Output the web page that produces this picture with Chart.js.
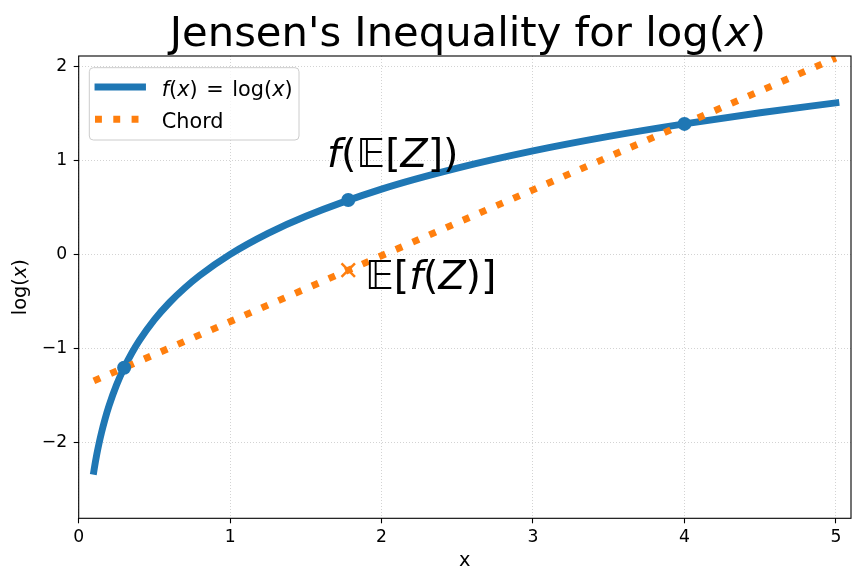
<!DOCTYPE html>
<html>
<head>
<meta charset="utf-8">
<script src="https://cdn.jsdelivr.net/npm/chart.js@4.4.1/dist/chart.umd.min.js"></script>
<style>
  html, body { margin: 0; padding: 0; background: #fff; }
</style>
</head>
<body>
<canvas id="chart" width="863" height="582"></canvas>
<script>
// curve f(x) = log(x)
const curveX = [0.1, 0.11, 0.12, 0.135, 0.15, 0.175, 0.2, 0.25, 0.3, 0.35, 0.4, 0.5, 0.6, 0.7, 0.8, 1, 1.25, 1.5, 2, 2.5, 3, 3.5, 4, 4.5, 5];
const curveY = [-2.303, -2.207, -2.120, -2.002, -1.897, -1.743, -1.609, -1.386, -1.204, -1.050, -0.916, -0.693, -0.511, -0.357, -0.223, 0, 0.223, 0.405, 0.693, 0.916, 1.099, 1.253, 1.386, 1.504, 1.609];

// chord through the two sample points
const chordX = [0.1, 5];
const chordY = [-1.344, 2.086];

// marked points: Z values and f(E[Z])
const pointX = [0.3, 1.78, 4];
const pointY = [-1.204, 0.577, 1.386];

// E[f(Z)] on the chord
const jensenX = [1.78];
const jensenY = [-0.168];

const xTicks = [0, 1, 2, 3, 4, 5];
const yTicks = [-2, -1, 0, 1, 2];

const BLUE = '#1f77b4';
const ORANGE = '#ff7f0e';
const FONT = '"DejaVu Sans"';

const toPts = (xs, ys) => xs.map((x, i) => ({ x: x, y: ys[i] }));
const fmt = (v) => String(v).replace('-', '\u2212');

function fontStr(size, italic) {
  return (italic ? 'italic ' : '') + size + 'px ' + FONT;
}

function richWidth(ctx, parts, size) {
  let w = 0;
  parts.forEach(p => {
    ctx.font = fontStr(size, p[1]);
    w += ctx.measureText(p[0]).width;
  });
  return w;
}

function drawRich(ctx, parts, x, y, size, align) {
  const w = richWidth(ctx, parts, size);
  let cx = align === 'center' ? x - w / 2 : x;
  ctx.textAlign = 'left';
  ctx.textBaseline = 'alphabetic';
  ctx.fillStyle = '#000';
  parts.forEach(p => {
    ctx.font = fontStr(size, p[1]);
    ctx.fillText(p[0], cx, y);
    cx += ctx.measureText(p[0]).width;
  });
}

const textPlugin = {
  id: 'texts',
  afterDatasetsDraw(chart) {
    const ctx = chart.ctx;
    const a = chart.chartArea;
    ctx.save();
    ctx.strokeStyle = '#000';
    ctx.lineWidth = 1.1;
    ctx.strokeRect(a.left, a.top, a.right - a.left, a.bottom - a.top);
    ctx.restore();
  },
  afterDraw(chart) {
    const ctx = chart.ctx;
    const a = chart.chartArea;
    const xs = chart.scales.x, ys = chart.scales.y;
    const midX = (a.left + a.right) / 2;
    ctx.save();

    // title
    drawRich(ctx, [["Jensen's Inequality for log(", false], ['x', true], [')', false]], midX + 3, 45.5, 41.7, 'center');

    // axis labels
    drawRich(ctx, [['x', false]], midX, 566, 19.4, 'center');
    ctx.save();
    ctx.translate(26, (a.top + a.bottom) / 2);
    ctx.rotate(-Math.PI / 2);
    drawRich(ctx, [['log(', false], ['x', true], [')', false]], 0, 0, 19.4, 'center');
    ctx.restore();

    // annotations
    drawRich(ctx, [['f', true], ['(', false], ['\u{1D53C}', true], ['[', false], ['Z', true], ['])', false]],
      xs.getPixelForValue(1.64), ys.getPixelForValue(0.927), 39.5, 'left');
    drawRich(ctx, [['\u{1D53C}', true], ['[', false], ['f', true], ['(', false], ['Z', true], [')]', false]],
      xs.getPixelForValue(1.89), ys.getPixelForValue(-0.368), 39.5, 'left');

    // legend
    const lx = 89.3, ly = 67.7, lw = 209.7, lh = 72.3;
    ctx.beginPath();
    ctx.roundRect(lx, ly, lw, lh, 4);
    ctx.fillStyle = 'rgba(255,255,255,0.8)';
    ctx.fill();
    ctx.strokeStyle = '#cccccc';
    ctx.lineWidth = 1;
    ctx.stroke();

    ctx.lineWidth = 6.9;
    ctx.strokeStyle = BLUE;
    ctx.lineCap = 'square';
    ctx.beginPath();
    ctx.moveTo(98, 87);
    ctx.lineTo(142.5, 87);
    ctx.stroke();

    ctx.strokeStyle = ORANGE;
    ctx.lineCap = 'butt';
    ctx.setLineDash([6.9, 11.4]);
    ctx.beginPath();
    ctx.moveTo(95, 119.3);
    ctx.lineTo(146, 119.3);
    ctx.stroke();
    ctx.setLineDash([]);

    drawRich(ctx, [['f', true], ['(', false], ['x', true], [')\u200A = \u200Alog(', false], ['x', true], [')', false]], 161.7, 95.5, 20.8, 'left');
    drawRich(ctx, [['Chord', false]], 161.7, 128, 20.8, 'left');

    ctx.restore();
  }
};

new Chart(document.getElementById('chart'), {
  type: 'scatter',
  data: {
    datasets: [
      {
        data: toPts(pointX, pointY),
        showLine: false,
        pointRadius: 7,
        pointBackgroundColor: BLUE,
        pointBorderColor: BLUE,
        pointBorderWidth: 0,
        order: 0
      },
      {
        data: toPts(jensenX, jensenY),
        showLine: false,
        pointStyle: 'crossRot',
        pointRadius: 9.5,
        pointBorderColor: ORANGE,
        pointBorderWidth: 2.5,
        order: 0
      },
      {
        data: toPts(chordX, chordY),
        showLine: true,
        borderColor: ORANGE,
        borderWidth: 6.9,
        borderDash: [6.9, 11.4],
        borderCapStyle: 'butt',
        pointRadius: 0,
        order: 1
      },
      {
        data: toPts(curveX, curveY),
        showLine: true,
        borderColor: BLUE,
        borderWidth: 6.9,
        borderCapStyle: 'square',
        cubicInterpolationMode: 'monotone',
        pointRadius: 0,
        order: 2
      }
    ]
  },
  options: {
    responsive: false,
    devicePixelRatio: 1,
    animation: false,
    layout: { padding: { left: 0, right: 9.7, top: 56, bottom: 0 } },
    plugins: {
      legend: { display: false },
      title: { display: false },
      tooltip: { enabled: false }
    },
    scales: {
      x: {
        type: 'linear',
        min: 0,
        max: 5.1,
        afterBuildTicks: (s) => { s.ticks = xTicks.map(v => ({ value: v })); },
        afterFit: (s) => { s.height = 582 - 518.3; },
        grid: {
          color: 'rgba(176,176,176,0.7)',
          lineWidth: 0.8,
          tickLength: 5,
          tickColor: '#000',
          tickWidth: 1.1,
          tickBorderDash: []
        },
        border: { display: false, dash: [1, 2] },
        ticks: {
          color: '#000',
          padding: 3.5,
          maxRotation: 0,
          font: { family: 'DejaVu Sans', size: 17.2 },
          callback: fmt
        }
      },
      y: {
        type: 'linear',
        min: -2.803,
        max: 2.107,
        afterBuildTicks: (s) => { s.ticks = yTicks.map(v => ({ value: v })); },
        afterFit: (s) => { s.width = 78.7; },
        grid: {
          color: 'rgba(176,176,176,0.7)',
          lineWidth: 0.8,
          tickLength: 5,
          tickColor: '#000',
          tickWidth: 1.1,
          tickBorderDash: []
        },
        border: { display: false, dash: [1, 2] },
        ticks: {
          color: '#000',
          padding: 6.5,
          font: { family: 'DejaVu Sans', size: 17.2 },
          callback: fmt
        }
      }
    }
  },
  plugins: [textPlugin]
});
</script>
</body>
</html>
